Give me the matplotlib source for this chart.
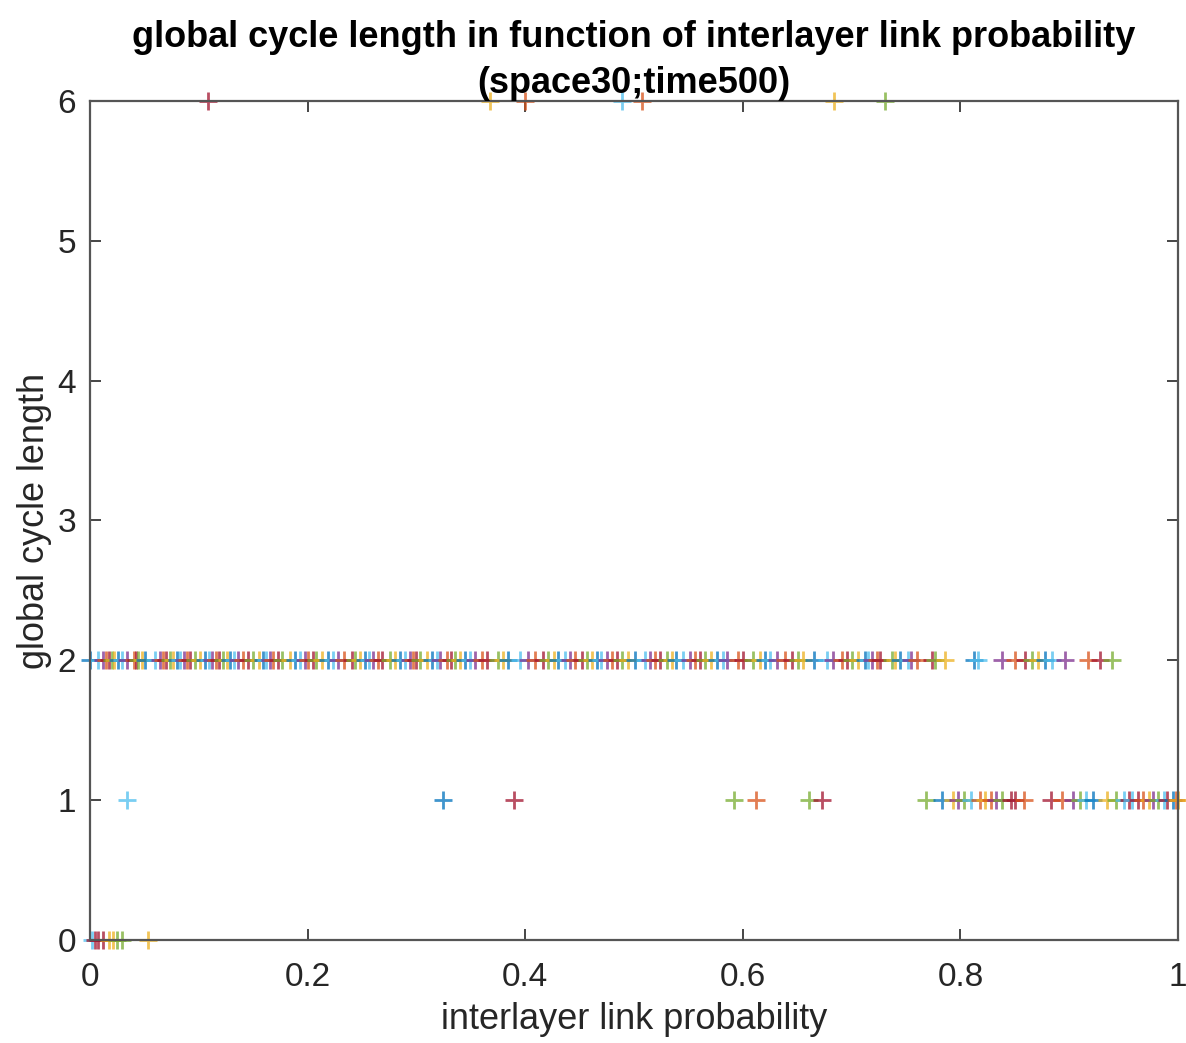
import matplotlib
matplotlib.use("Agg")
import matplotlib.pyplot as plt

# MATLAB default colour order
col = {'b': '#0072BD', 'o': '#D95319', 'y': '#EDB120', 'p': '#7E2F8E',
       'g': '#77AC30', 'c': '#4DBEEE', 'r': '#A2142F'}
order = ['b', 'o', 'y', 'p', 'g', 'c', 'r']

# cycle length 2
p_len2 = [0.0, 0.0077, 0.0122, 0.0144, 0.0175, 0.020, 0.0224, 0.026, 0.029, 0.034, 0.040, 0.042,
          0.0444, 0.0475, 0.0505, 0.060, 0.064, 0.067, 0.070, 0.0735, 0.0766, 0.080, 0.083, 0.086,
          0.089, 0.092, 0.0965, 0.101, 0.106, 0.109, 0.112, 0.116, 0.119, 0.1225, 0.126, 0.129,
          0.132, 0.136, 0.141, 0.1455, 0.150, 0.155, 0.159, 0.162, 0.1655, 0.168, 0.173, 0.176,
          0.184, 0.188, 0.193, 0.1976, 0.2007, 0.205, 0.208, 0.213, 0.219, 0.2237, 0.228, 0.233,
          0.2405, 0.2436, 0.248, 0.253, 0.256, 0.260, 0.265, 0.268, 0.276, 0.280, 0.285, 0.2895,
          0.294, 0.297, 0.300, 0.303, 0.3095, 0.314, 0.3187, 0.322, 0.328, 0.332, 0.3355, 0.340,
          0.345, 0.349, 0.354, 0.360, 0.3646, 0.375, 0.380, 0.3845, 0.395, 0.403, 0.409, 0.4167,
          0.421, 0.426, 0.430, 0.4366, 0.441, 0.446, 0.452, 0.4565, 0.461, 0.466, 0.470, 0.475,
          0.4795, 0.484, 0.4887, 0.4948, 0.501, 0.510, 0.5147, 0.519, 0.524, 0.530, 0.5346,
          0.539, 0.5453, 0.5515, 0.556, 0.5607, 0.565, 0.571, 0.576, 0.582, 0.585, 0.596, 0.6005,
          0.6097, 0.6158, 0.620, 0.625, 0.631, 0.6388, 0.645, 0.651, 0.6556, 0.665, 0.677, 0.683,
          0.691, 0.6955, 0.700, 0.706, 0.712, 0.7154, 0.7184, 0.723, 0.726, 0.737, 0.740, 0.7445,
          0.752, 0.755, 0.760, 0.7736, 0.7767, 0.786, 0.8125, 0.816, 0.838, 0.850, 0.8594, 0.8655,
          0.8716, 0.878, 0.884, 0.896, 0.917, 0.928, 0.939]

# cycle length 1
p_len1 = [0.034, 0.3245, 0.39, 0.592, 0.612, 0.661, 0.6726, 0.768, 0.783, 0.793, 0.798, 0.803,
          0.810, 0.818, 0.823, 0.828, 0.833, 0.838, 0.8465, 0.850, 0.858, 0.883, 0.893, 0.903,
          0.910, 0.915, 0.9216, 0.9347, 0.943, 0.950, 0.955, 0.958, 0.963, 0.968, 0.973, 0.9767,
          0.9816, 0.987, 0.990, 0.995, 0.998, 1.0]
c_len1 = ['c', 'b', 'r', 'g', 'o', 'g', 'r', 'g', 'b', 'y', 'p', 'g', 'c', 'o', 'y', 'o', 'p',
          'g', 'r', 'r', 'o', 'r', 'o', 'p', 'g', 'c', 'b', 'y', 'g', 'c', 'r', 'c', 'r', 'o',
          'y', 'p', 'g', 'c', 'r', 'b', 'o', 'y']

# cycle length 0
p_len0 = [0.0015, 0.0046, 0.0077, 0.0116, 0.0178, 0.0214, 0.025, 0.029, 0.0536]
c_len0 = ['c', 'r', 'r', 'r', 'y', 'y', 'g', 'g', 'y']

# cycle length 6
p_len6 = [0.108, 0.368, 0.400, 0.489, 0.507, 0.684, 0.731]
c_len6 = ['r', 'y', 'o', 'c', 'o', 'y', 'g']

plt.rcParams['font.family'] = ['Liberation Sans', 'DejaVu Sans']

fig = plt.figure(figsize=(11.86, 10.43), dpi=100)
ax = fig.add_axes([0.0759, 0.0988, 0.9174, 0.8044])

def pts(xs, y, cs):
    for x, c in zip(xs, cs):
        ax.plot(x, y, '+', color=col[c], ms=13, mew=2.0, alpha=0.75, clip_on=False)

c_len2 = [order[(i * 5) % 7] for i in range(len(p_len2))]
pts(p_len2, 2, c_len2)
pts(p_len1, 1, c_len1)
pts(p_len0, 0, c_len0)
pts(p_len6, 6, c_len6)

ax.set_xlim(0, 1)
ax.set_ylim(0, 6)
ax.set_xticks([0, 0.2, 0.4, 0.6, 0.8, 1])
ax.set_xticklabels(['0', '0.2', '0.4', '0.6', '0.8', '1'])
ax.set_yticks([0, 1, 2, 3, 4, 5, 6])
ax.tick_params(direction='in', top=True, right=True, length=8, width=1.2,
               labelsize=24, colors='#262626')
ax.tick_params(axis='x', pad=16)
ax.tick_params(axis='y', pad=10)
for s in ax.spines.values():
    s.set_color('#555555')
    s.set_linewidth(1.6)

ax.set_xlabel('interlayer link probability', fontsize=26, color='#262626', labelpad=6)
ax.set_ylabel('global cycle length', fontsize=26, color='#262626', labelpad=4)
ax.set_title('global cycle length in function of interlayer link probability\n(space30;time500)',
             fontsize=26, fontweight='bold', color='#000000', linespacing=1.4, pad=6)

fig.savefig('out.png', dpi=100)
